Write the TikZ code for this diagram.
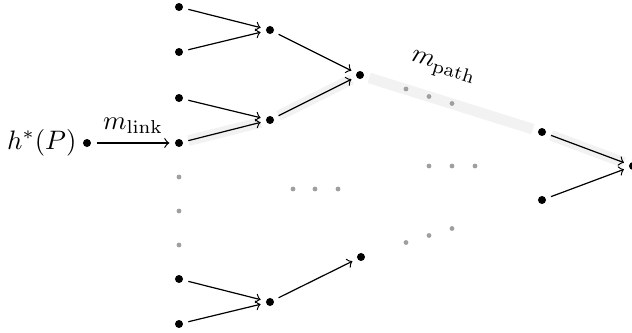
\documentclass[tikz,border=0pt]{standalone}
\begin{document}
\begin{tikzpicture}[x=0.3745pt,y=-0.3745pt,
  dotnode/.style={circle,fill=black,inner sep=0pt,minimum size=3pt,outer sep=2.1pt},
  graydot/.style={circle,fill=gray!75,inner sep=0pt,minimum size=1.8pt},
  link/.style={->,line width=0.45pt},
  hl/.style={line width=4pt,draw=gray!10}]
\useasboundingbox (0,0) rectangle (632,333);
% black nodes
\node[dotnode] (h) at (87,143) {};
\node[dotnode] (a1) at (179,7) {};
\node[dotnode] (a2) at (179,52) {};
\node[dotnode] (a3) at (179,98) {};
\node[dotnode] (a4) at (179,143) {};
\node[dotnode] (a5) at (179,279) {};
\node[dotnode] (a6) at (179,324) {};
\node[dotnode] (b1) at (270,30) {};
\node[dotnode] (b2) at (270,120) {};
\node[dotnode] (b3) at (270,302) {};
\node[dotnode] (c1) at (360,75) {};
\node[dotnode] (c2) at (361,257) {};
\node[dotnode] (d1) at (542,132) {};
\node[dotnode] (d2) at (542,200) {};
\node[dotnode] (e) at (633,166) {};
% highlight
\draw[hl] (a4) -- (b2);
\draw[hl] (b2) -- (c1);
\draw[hl] (c1) -- (d1);
\draw[hl] (d1) -- (e);
% gray dots
\node[graydot] (v1) at (179,177) {};
\node[graydot] (v2) at (179,211) {};
\node[graydot] (v3) at (179,245) {};
\node[graydot] (m1) at (293,189) {};
\node[graydot] (m2) at (315,189) {};
\node[graydot] (m3) at (338,189) {};
\node[graydot] (r1) at (429,166) {};
\node[graydot] (r2) at (452,166) {};
\node[graydot] (r3) at (475,166) {};
\node[graydot] (p1) at (406,89) {};
\node[graydot] (p2) at (429,96.5) {};
\node[graydot] (p3) at (452,103.5) {};
\node[graydot] (q1) at (406,242.5) {};
\node[graydot] (q2) at (429,235.5) {};
\node[graydot] (q3) at (452,228.5) {};
% labels
\node[anchor=east,inner sep=0pt] (hl1) at (77,143) {$h^*(P)$};
\node[rotate=-17.4,inner sep=1pt] (mp) at (443,68.5) {$m_{\mathrm{path}}$};
% edges
\draw[link] (h) -- node[above] {$m_{\mathrm{link}}$} (a4);
\draw[link] (a1) -- (b1);
\draw[link] (a2) -- (b1);
\draw[link] (a3) -- (b2);
\draw[link] (a4) -- (b2);
\draw[link] (b1) -- (c1);
\draw[link] (b2) -- (c1);
\draw[link] (a5) -- (b3);
\draw[link] (a6) -- (b3);
\draw[link] (b3) -- (c2);
\draw[link] (d1) -- (e);
\draw[link] (d2) -- (e);
\end{tikzpicture}
\end{document}
